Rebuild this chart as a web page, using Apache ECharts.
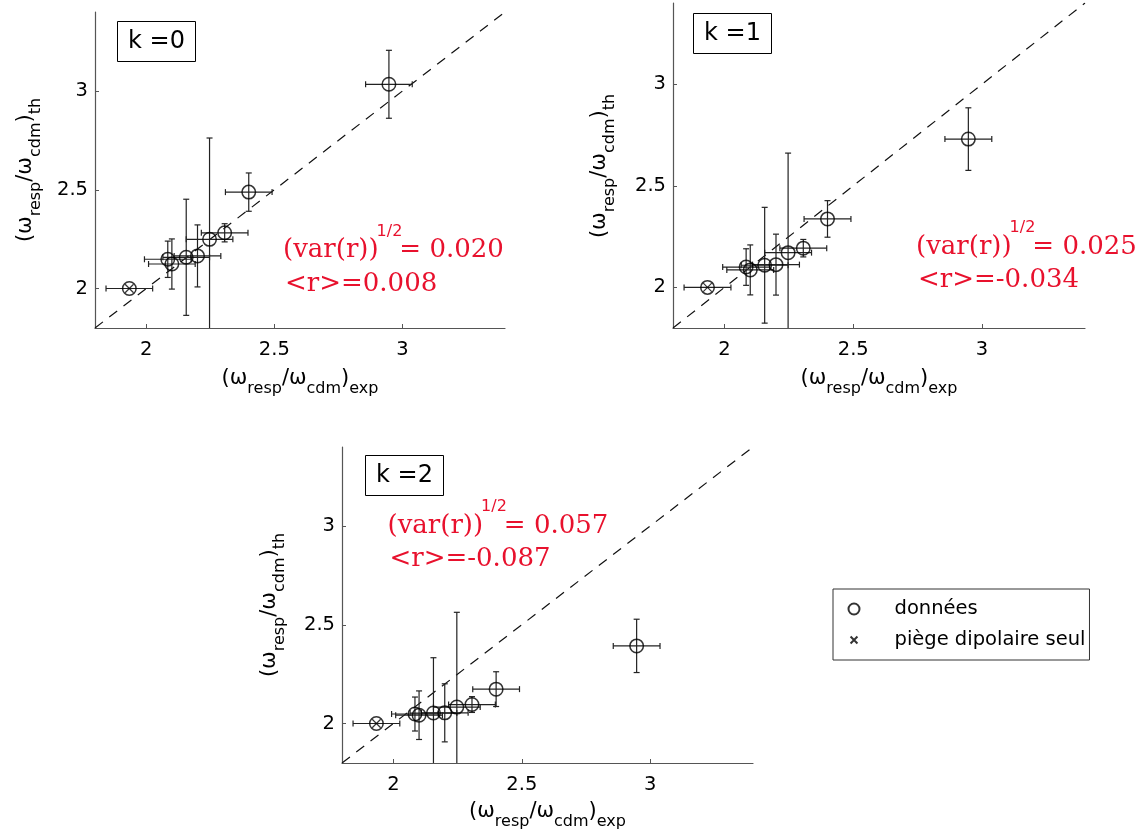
<!DOCTYPE html>
<html>
<head>
<meta charset="utf-8">
<script src="https://cdn.jsdelivr.net/npm/echarts@6/dist/echarts.min.js"></script>
<style>
html,body{margin:0;padding:0;background:#fff;}
#chart{width:1148px;height:839px;}
</style>
</head>
<body>
<div id="chart"></div>
<script>
// ---------------- data ----------------
const xExp   = [2.084, 2.100, 2.156, 2.200, 2.247, 2.306, 2.400, 2.947];
const xErr   = [0.091, 0.091, 0.091, 0.091, 0.091, 0.091, 0.091, 0.091];
const yTh0   = [2.148, 2.124, 2.158, 2.165, 2.249, 2.282, 2.488, 3.034];
const yErr0  = [0.092, 0.127, 0.294, 0.157, 0.513, 0.046, 0.097, 0.172];
const yTh1   = [2.100, 2.086, 2.109, 2.112, 2.171, 2.193, 2.337, 2.730];
const yErr1  = [0.090, 0.123, 0.285, 0.150, 0.490, 0.043, 0.090, 0.154];
const yTh2   = [2.048, 2.042, 2.053, 2.054, 2.083, 2.096, 2.174, 2.393];
const yErr2  = [0.086, 0.123, 0.280, 0.147, 0.480, 0.040, 0.088, 0.135];
const dipoleX    = 1.934;
const dipoleXErr = 0.091;
const dipoleY    = [2.0, 2.0, 2.0];
const kLabels = ['k =0', 'k =1', 'k =2'];
const stdR    = ['0.020', '0.025', '0.057'];
const meanR   = ['0.008', '-0.034', '-0.087'];
const tickValues = [2, 2.5, 3];
const axisRange  = [1.8, 3.4];
const legendNames = ['données', 'piège dipolaire seul'];

const yTh  = [yTh0, yTh1, yTh2];
const yErr = [yErr0, yErr1, yErr2];

// ---------------- layout ----------------
const grids = [
  {left: 95,  top: 12,  width: 410, height: 316},
  {left: 673, top: 3,   width: 412, height: 325},
  {left: 342, top: 447, width: 411, height: 316}
];
const boxPos = [[117, 22], [693, 14], [365, 456]];
const statPos = [[283, 250.5], [916, 247], [387.5, 526]];
const xLabelPos = [[300, 379], [879, 379], [547.5, 812]];
const yLabelPos = [[26, 170], [600, 166], [270, 605]];

const RED = '#e8112d';
const AXIS = '#555';
const SANS = 'DejaVu Sans';
const SERIF = 'DejaVu Serif';

const mctx = document.createElement('canvas').getContext('2d');
function tw(text, size, family) {
  mctx.font = size + 'px "' + family + '"';
  return mctx.measureText(text).width;
}
function txt(text, x, y, size, family, color) {
  return {type: 'text', x: x, y: y, silent: true,
    style: {text: text, fontSize: size, fontFamily: family, fill: color,
      align: 'left', verticalAlign: 'middle', textAlign: 'left', textVerticalAlign: 'middle'}};
}
function axisLabelGroup(cx, cy, suffix, rotate) {
  const MAIN = 21, SUB = 16, DY = 10;
  const parts = [['(\u03c9', 0], ['resp', 1], ['/\u03c9', 0], ['cdm', 1], [')', 0], [suffix, 1]];
  const widths = parts.map(p => tw(p[0], p[1] ? SUB : MAIN, SANS));
  const total = widths.reduce((a, b) => a + b, 0);
  let x = -total / 2;
  const children = parts.map((p, i) => {
    const el = txt(p[0], x, p[1] ? DY : 0, p[1] ? SUB : MAIN, SANS, '#000');
    x += widths[i];
    return el;
  });
  return {type: 'group', x: cx, y: cy, rotation: rotate ? Math.PI / 2 : 0, children: children, silent: true};
}
function statGroup(x0, y0, s, m) {
  const F = 26, SUP = 16;
  const w1 = tw('(var(r))', F, SERIF);
  const ws = tw('1/2', SUP, SANS);
  return {type: 'group', x: x0, y: y0, silent: true, children: [
    txt('(var(r))', 0, 0, F, SERIF, RED),
    txt('1/2', w1 - 2, -19, SUP, SANS, RED),
    txt('= ' + s, w1 + ws - 5, 0, F, SERIF, RED),
    txt('<r>=' + m, 2, 33.5, F, SERIF, RED)
  ]};
}

function renderErr(params, api) {
  const x = api.value(0), y = api.value(1), xe = api.value(2), ye = api.value(3);
  const style = {stroke: '#222', lineWidth: 1.2, fill: null};
  const C = 3;
  const l = api.coord([x - xe, y]), r = api.coord([x + xe, y]);
  const ch = [
    {type: 'line', shape: {x1: l[0], y1: l[1], x2: r[0], y2: r[1]}, style: style},
    {type: 'line', shape: {x1: l[0], y1: l[1] - C, x2: l[0], y2: l[1] + C}, style: style},
    {type: 'line', shape: {x1: r[0], y1: r[1] - C, x2: r[0], y2: r[1] + C}, style: style}
  ];
  if (ye > 0) {
    const t = api.coord([x, y + ye]), b = api.coord([x, y - ye]);
    ch.push({type: 'line', shape: {x1: t[0], y1: t[1], x2: b[0], y2: b[1]}, style: style});
    ch.push({type: 'line', shape: {x1: t[0] - C, y1: t[1], x2: t[0] + C, y2: t[1]}, style: style});
    ch.push({type: 'line', shape: {x1: b[0] - C, y1: b[1], x2: b[0] + C, y2: b[1]}, style: style});
  }
  return {type: 'group', children: ch};
}

const xPath = 'path://M-3,-3M13,13M0,0L10,10M10,0L0,10';

function axisCommon(i, margin) {
  return {
    type: 'value', gridIndex: i, min: axisRange[0], max: axisRange[1],
    splitLine: {show: false},
    axisLine: {show: true, onZero: false, lineStyle: {color: AXIS, width: 1.2}},
    axisTick: {show: true, inside: true, length: 4, customValues: tickValues, lineStyle: {color: AXIS}},
    axisLabel: {customValues: tickValues, fontSize: 19.5, fontFamily: SANS, color: '#000', margin: margin}
  };
}

const series = [];
for (let i = 0; i < 3; i++) {
  series.push({
    type: 'line', name: 'diag' + i, xAxisIndex: i, yAxisIndex: i, silent: true,
    data: [[axisRange[0], axisRange[0]], [axisRange[1], axisRange[1]]],
    symbol: 'none', lineStyle: {color: '#111', width: 1.2, type: [10, 8]}, z: 1
  });
  const errData = xExp.map((x, j) => [x, yTh[i][j], xErr[j], yErr[i][j]]);
  errData.push([dipoleX, dipoleY[i], dipoleXErr, 0]);
  series.push({
    type: 'custom', name: 'err' + i, xAxisIndex: i, yAxisIndex: i, silent: true, clip: true,
    renderItem: renderErr, encode: {x: 0, y: 1}, data: errData, z: 2
  });
  const pts = xExp.map((x, j) => [x, yTh[i][j]]);
  pts.push([dipoleX, dipoleY[i]]);
  series.push({
    type: 'scatter', name: legendNames[0], xAxisIndex: i, yAxisIndex: i, silent: true,
    data: pts, symbol: 'circle', symbolSize: 13.5,
    itemStyle: {color: 'rgba(0,0,0,0)', borderColor: '#000', borderWidth: 1.5}, z: 3
  });
  series.push({
    type: 'scatter', name: legendNames[1], xAxisIndex: i, yAxisIndex: i, silent: true,
    data: [[dipoleX, dipoleY[i]]], symbol: xPath, symbolSize: 13.5,
    itemStyle: {color: 'none', borderColor: '#000', borderWidth: 1.2}, z: 3
  });
}

const graphics = [];
for (let i = 0; i < 3; i++) {
  graphics.push(axisLabelGroup(xLabelPos[i][0], xLabelPos[i][1], 'exp', false));
  graphics.push(axisLabelGroup(yLabelPos[i][0], yLabelPos[i][1], 'th', true));
  graphics.push(statGroup(statPos[i][0], statPos[i][1], stdR[i], meanR[i]));
}

const option = {
  animation: false,
  backgroundColor: '#fff',
  grid: grids.map(g => Object.assign({containLabel: false}, g)),
  xAxis: [0, 1, 2].map(i => axisCommon(i, 12)),
  yAxis: [0, 1, 2].map(i => axisCommon(i, 7)),
  title: kLabels.map((t, i) => ({
    text: t, left: boxPos[i][0], top: boxPos[i][1], padding: [8, 11],
    borderColor: '#000', borderWidth: 1, backgroundColor: '#fff',
    textStyle: {fontSize: 24, fontWeight: 'normal', fontFamily: SANS, color: '#000', lineHeight: 23}
  })),
  legend: {
    data: [{name: legendNames[0], icon: 'circle'}, {name: legendNames[1], icon: xPath}],
    orient: 'vertical', left: 833, top: 589, itemWidth: 11, itemHeight: 11, itemGap: 11,
    padding: [10, 4, 10, 13], borderColor: '#333', borderWidth: 1, backgroundColor: '#fff',
    selectedMode: false,
    textStyle: {fontSize: 19.5, fontFamily: SANS, color: '#000', padding: [0, 0, 0, 30]}
  },
  graphic: graphics,
  series: series
};

const chart = echarts.init(document.getElementById('chart'), null, {renderer: 'canvas'});
chart.setOption(option);
</script>
</body>
</html>
